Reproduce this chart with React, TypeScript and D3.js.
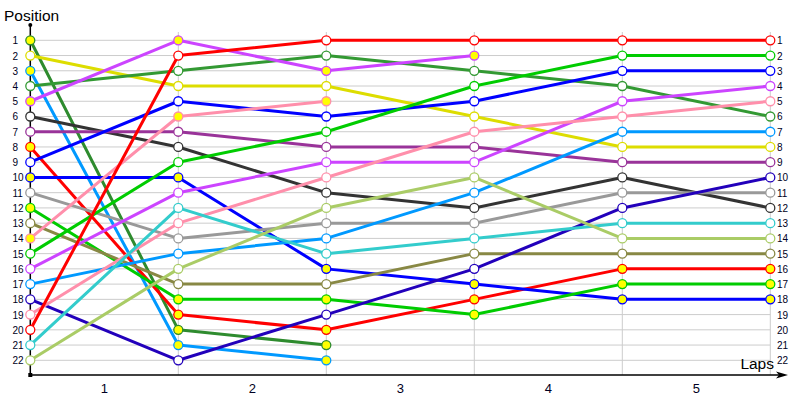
import React from "react";
import * as d3 from "d3";

const laps = [0, 1, 2, 3, 4, 5];
const lapLabels = ["1", "2", "3", "4", "5"];
const positions = d3.range(1, 23);

const driverColors = [
  "#2e8b2e", "#dddd00", "#0099ff", "#339933", "#cc44ff", "#333333", "#993399", "#ff0000",
  "#0000ff", "#0000ff", "#999999", "#00cc00", "#888844", "#ff8fab", "#00cc00", "#cc44ff",
  "#0099ff", "#2200bb", "#ff8fab", "#ff0000", "#33cccc", "#aacc66",
];
const driverHighlight = [
  true, false, true, false, true, false, false, true,
  false, true, false, true, false, true, false, false,
  false, false, false, false, false, false,
];
const driverPositions: number[][] = [
  [1, 20, 21],
  [2, 4, 4, 6, 8, 8],
  [3, 21, 22],
  [4, 3, 2, 3, 4, 6],
  [5, 1, 3, 2],
  [6, 8, 11, 12, 10, 12],
  [7, 7, 8, 8, 9, 9],
  [8, 19, 20, 18, 16, 16],
  [9, 5, 6, 5, 3, 3],
  [10, 10, 16, 17, 18, 18],
  [11, 14, 13, 13, 11, 11],
  [12, 18, 18, 19, 17, 17],
  [13, 17, 17, 15, 15, 15],
  [14, 6, 5],
  [15, 9, 7, 4, 2, 2],
  [16, 11, 9, 9, 5, 4],
  [17, 15, 14, 11, 7, 7],
  [18, 22, 19, 16, 12, 10],
  [19, 13, 10, 7, 6, 5],
  [20, 2, 1, 1, 1, 1],
  [21, 12, 15, 14, 13, 13],
  [22, 16, 12, 10, 14, 14],
];

export default function App() {
  const width = 800;
  const height = 400;
  const x = d3.scaleLinear().domain([0, 5]).range([30.3, 770.3]);
  const y = d3.scaleLinear().domain([1, 22]).range([40.3, 360.3]);
  const axisY = 375;
  const line = d3
    .line<[number, number]>()
    .x((d) => x(d[0]))
    .y((d) => y(d[1]));
  const font = "'Liberation Sans', Arial, sans-serif";

  return (
    <svg
      width={width}
      height={height}
      style={{ position: "absolute", left: 0, top: 0, background: "#fff" }}
      fontFamily={font}
    >
      {/* horizontal grid */}
      {positions.map((p) => (
        <line key={"h" + p} x1={x(0)} x2={x(5)} y1={y(p)} y2={y(p)} stroke="#cccccc" strokeWidth={1} />
      ))}
      {/* vertical grid */}
      {laps.slice(1).map((l) => (
        <line key={"v" + l} x1={x(l)} x2={x(l)} y1={32} y2={axisY} stroke="#cccccc" strokeWidth={1} />
      ))}
      {/* axes */}
      <line x1={x(0)} x2={x(0)} y1={25} y2={axisY} stroke="#000" strokeWidth={1.5} />
      <circle cx={x(0)} cy={25} r={2} fill="#000" />
      <line x1={x(0)} x2={780} y1={axisY} y2={axisY} stroke="#000" strokeWidth={1.5} />
      <path d={`M788,${axisY} L776,${axisY - 3.5} L779,${axisY} L776,${axisY + 3.5} Z`} fill="#000" />
      <rect x={x(0) - 2} y={axisY - 2} width={4} height={4} fill="#000" />
      {/* titles */}
      <text x={4} y={21} fontSize={15.5} fill="#000">Position</text>
      <text x={774} y={369} fontSize={15.5} fill="#000" textAnchor="end">Laps</text>
      {/* y tick labels */}
      {positions.map((p) => (
        <g key={"t" + p}>
          <text x={12.5} y={y(p) + 4} fontSize={10} fill="#000022">{p}</text>
          <text x={777} y={y(p) + 4} fontSize={10} fill="#000022">{p}</text>
        </g>
      ))}
      {/* x labels */}
      {lapLabels.map((lab, i) => (
        <text key={"x" + i} x={(x(i) + x(i + 1)) / 2} y={393} fontSize={13} textAnchor="middle" fill="#000022">
          {lab}
        </text>
      ))}
      {/* lines */}
      {driverPositions.map((ps, i) => (
        <path
          key={"l" + i}
          d={line(ps.map((p, j) => [laps[j], p] as [number, number])) || ""}
          fill="none"
          stroke={driverColors[i]}
          strokeWidth={3}
          strokeLinejoin="round"
        />
      ))}
      {/* markers */}
      {driverPositions.map((ps, i) =>
        ps.map((p, j) => (
          <circle
            key={"m" + i + "-" + j}
            cx={x(laps[j])}
            cy={y(p)}
            r={4.5}
            fill={driverHighlight[i] ? "#ffff00" : "#ffffff"}
            stroke={driverColors[i]}
            strokeWidth={1.3}
          />
        ))
      )}
    </svg>
  );
}
